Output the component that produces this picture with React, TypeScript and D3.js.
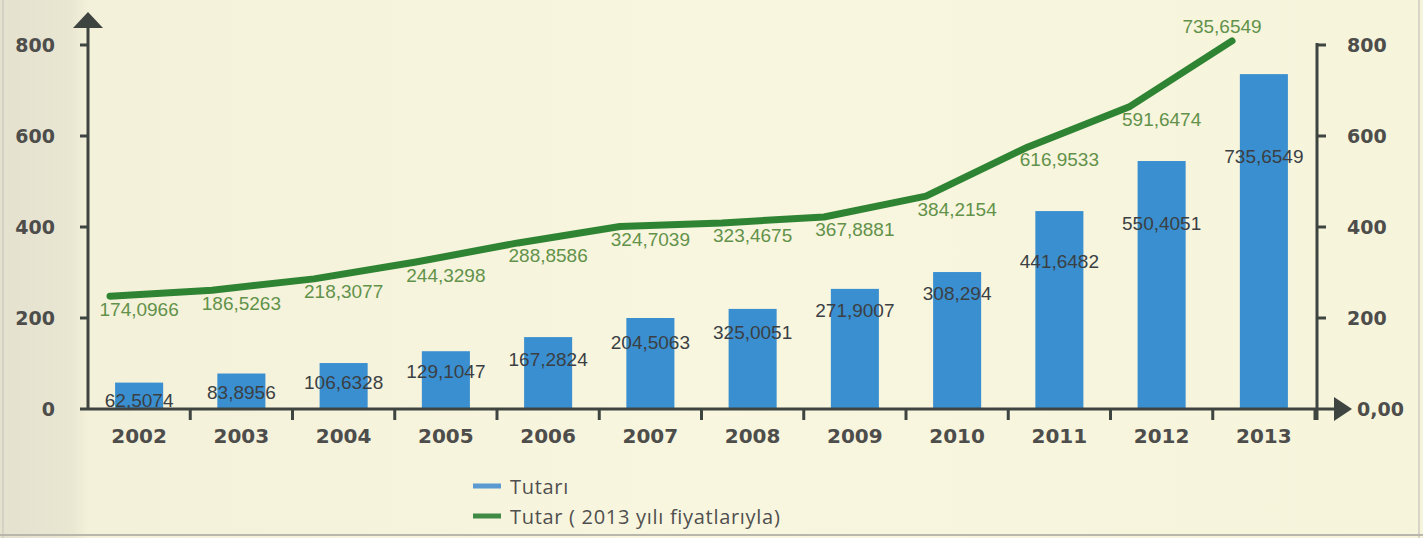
import React from 'react';
import * as d3 from 'd3';

const years = ['2002', '2003', '2004', '2005', '2006', '2007', '2008', '2009', '2010', '2011', '2012', '2013'];
const barValues = [58, 78, 101, 127, 158, 200, 220, 264, 301, 435, 545, 736];
const barLabels = ['62,5074', '83,8956', '106,6328', '129,1047', '167,2824', '204,5063', '325,0051', '271,9007', '308,294', '441,6482', '550,4051', '735,6549'];
const lineValues = [248, 261, 286, 323, 365, 401, 409, 422, 468, 576, 665, 809];
const lineLabels = ['174,0966', '186,5263', '218,3077', '244,3298', '288,8586', '324,7039', '323,4675', '367,8881', '384,2154', '616,9533', '591,6474', '735,6549'];
const leftTicks = [0, 200, 400, 600, 800];
const leftTickLabels = ['0', '200', '400', '600', '800'];
const rightTickLabels = ['0,00', '200', '400', '600', '800'];
const legendItems = ['Tutarı', 'Tutar ( 2013 yılı fiyatlarıyla)'];

const W = 1423;
const H = 538;
const BLUE = '#3a8fd0';
const GREEN = '#2f8434';
const GREEN_TXT = '#62924a';
const AXIS = '#3e4541';
const TICK_TXT = '#4d4d4b';
const BAR_TXT = '#3b3f44';

export default function App() {
  const y = d3.scaleLinear().domain([0, 800]).range([409, 45]);
  const x = d3.scaleBand().domain(years).range([88, 1315]).paddingInner(0.53).paddingOuter(0.265);
  const xl = d3.scalePoint().domain(years).range([110, 1232]);
  // distance of a bar's label below the bar top, growing with bar height
  const labelDrop = d3.scaleLinear().domain([0, 200, 300, 440, 740]).range([15, 24, 21, 52, 83]).clamp(true);
  const bw = x.bandwidth();
  const step = x.step();
  const cx = (yr: string) => (x(yr) as number) + bw / 2;

  const line = d3
    .line<number>()
    .x((_, i) => xl(years[i]) as number)
    .y((d) => y(d))
    .curve(d3.curveLinear);

  const y0 = y(0);
  const leftX = 88;
  const rightX = 1317;

  return (
    <svg width={W} height={H} style={{ position: 'absolute', left: 0, top: 0, display: 'block' }}>
      <defs>
        <linearGradient id="bg" x1="0" x2="1" y1="0" y2="0">
          <stop offset="0" stopColor="#e4e1cf" />
          <stop offset="0.05" stopColor="#e9e6d2" />
          <stop offset="0.062" stopColor="#f4f1da" />
          <stop offset="0.5" stopColor="#f9f6df" />
          <stop offset="1" stopColor="#f7f4dc" />
        </linearGradient>
      </defs>
      <rect x={0} y={0} width={W} height={H} fill="url(#bg)" />
      <line x1={3} x2={3} y1={0} y2={H} stroke="#cfcdc0" strokeWidth={1.5} />
      <line x1={1419} x2={1419} y1={0} y2={H} stroke="#cfcdc0" strokeWidth={1.5} />
      <line x1={0} x2={W} y1={535} y2={535} stroke="#b9b7ab" strokeWidth={2} />

      {/* bars */}
      {years.map((yr, i) => (
        <rect key={'b' + yr} x={x(yr)} y={y(barValues[i])} width={bw} height={y0 - y(barValues[i])} fill={BLUE} />
      ))}

      {/* axes */}
      <line x1={leftX} x2={leftX} y1={y0 + 1} y2={26} stroke={AXIS} strokeWidth={3} />
      <path d={`M${leftX - 15},${28} L${leftX},${12} L${leftX + 15},${28} Z`} fill={AXIS} />
      {leftTicks.slice(1).map((t) => (
        <line key={'lt' + t} x1={leftX - 8} x2={leftX} y1={y(t)} y2={y(t)} stroke={AXIS} strokeWidth={3} />
      ))}
      {leftTicks.map((t, i) => (
        <text key={'ll' + t} x={55} y={y(t)} textAnchor="end" dominantBaseline="central" fontFamily="DejaVu Sans" fontWeight="bold" fontSize={19} fill={TICK_TXT}>
          {leftTickLabels[i]}
        </text>
      ))}

      <line x1={80} x2={1337} y1={y0} y2={y0} stroke={AXIS} strokeWidth={3} />
      <path d={`M${1334},${y0 - 12} L${1352},${y0} L${1334},${y0 + 12} Z`} fill={AXIS} />
      {years.map((yr, i) => (
        <line key={'xt' + yr} x1={88 + step * (i + 1)} x2={88 + step * (i + 1)} y1={y0} y2={y0 + 11} stroke={AXIS} strokeWidth={3} />
      ))}
      {years.map((yr) => (
        <text key={'xl' + yr} x={cx(yr)} y={436} textAnchor="middle" dominantBaseline="central" fontFamily="DejaVu Sans" fontWeight="bold" fontSize={20} fill={TICK_TXT}>
          {yr}
        </text>
      ))}

      <line x1={rightX} x2={rightX} y1={y(800) - 2} y2={y0 + 11} stroke={AXIS} strokeWidth={3} />
      {leftTicks.slice(1).map((t) => (
        <line key={'rt' + t} x1={rightX} x2={rightX + 9} y1={y(t)} y2={y(t)} stroke={AXIS} strokeWidth={3} />
      ))}
      {leftTicks.map((t, i) => (
        <text key={'rl' + t} x={i === 0 ? 1357 : 1347} y={y(t)} textAnchor="start" dominantBaseline="central" fontFamily="DejaVu Sans" fontWeight="bold" fontSize={19} fill={TICK_TXT}>
          {rightTickLabels[i]}
        </text>
      ))}

      {/* line */}
      <path d={line(lineValues) || ''} fill="none" stroke={GREEN} strokeWidth={7} strokeLinejoin="round" strokeLinecap="round" />

      {/* bar labels */}
      {years.map((yr, i) => (
        <text key={'bl' + yr} x={cx(yr)} y={y(barValues[i]) + labelDrop(barValues[i])} textAnchor="middle" dominantBaseline="central" fontFamily="Liberation Sans" fontSize={19} fill={BAR_TXT}>
          {barLabels[i]}
        </text>
      ))}

      {/* line labels */}
      {years.map((yr, i) => {
        const last = i === years.length - 1;
        return (
          <text
            key={'ll2' + yr}
            x={last ? (xl(yr) as number) - 10 : cx(yr)}
            y={last ? y(lineValues[i]) - 14 : y(lineValues[i]) + 13}
            textAnchor="middle"
            dominantBaseline="central"
            fontFamily="Liberation Sans"
            fontSize={19}
            fill={GREEN_TXT}
          >
            {lineLabels[i]}
          </text>
        );
      })}

      {/* legend */}
      {legendItems.map((t, i) => (
        <g key={'lg' + i} transform={`translate(473, ${486 + i * 30})`}>
          <rect x={0} y={-2.5} width={28} height={5} fill={i === 0 ? '#5a9ad0' : '#3f8a45'} />
          <text x={37} y={0} dominantBaseline="central" fontFamily="Open Sans" fontSize={20} letterSpacing={0.7} fill="#4f4f4f">
            {t}
          </text>
        </g>
      ))}
    </svg>
  );
}
